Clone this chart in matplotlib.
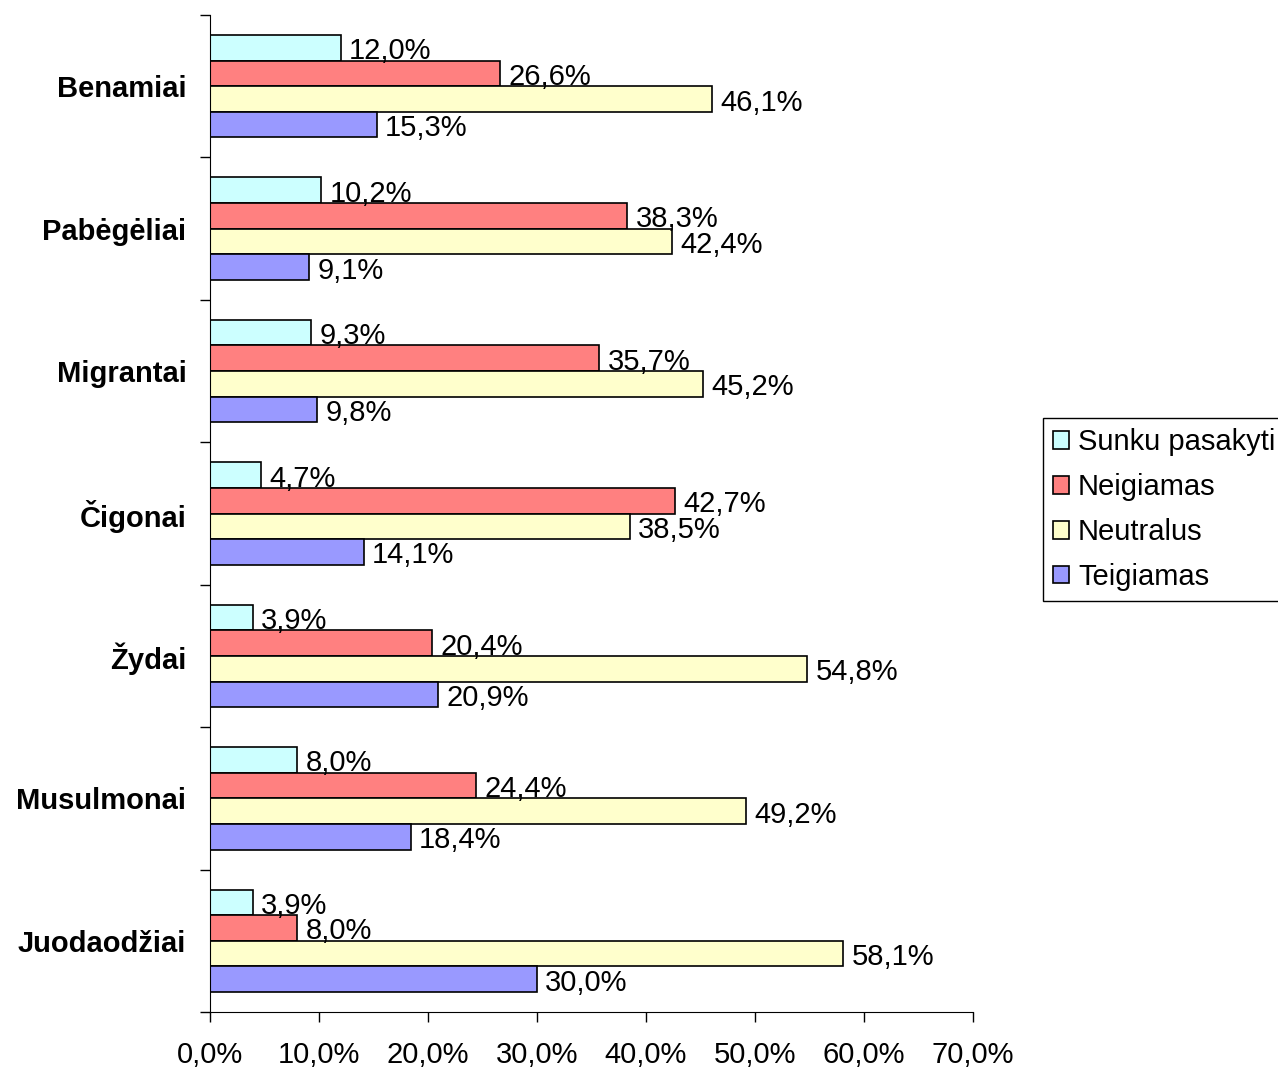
import numpy as np
from matplotlib import pyplot as plt
from matplotlib.ticker import FixedLocator, NullFormatter

plt.rcParams['font.family'] = ['Liberation Sans', 'DejaVu Sans']

## Data (top to bottom)
categories = ['Benamiai', 'Pabėgėliai', 'Migrantai', 'Čigonai', 'Žydai', 'Musulmonai', 'Juodaodžiai']
sunku = [12.0, 10.2, 9.3, 4.7, 3.9, 8.0, 3.9]
neigiamas = [26.6, 38.3, 35.7, 42.7, 20.4, 24.4, 8.0]
neutralus = [46.1, 42.4, 45.2, 38.5, 54.8, 49.2, 58.1]
teigiamas = [15.3, 9.1, 9.8, 14.1, 20.9, 18.4, 30.0]
x_ticks = [0, 10, 20, 30, 40, 50, 60, 70]

series = [('Sunku pasakyti', sunku, '#CCFFFF'),
          ('Neigiamas', neigiamas, '#FF8080'),
          ('Neutralus', neutralus, '#FFFFCC'),
          ('Teigiamas', teigiamas, '#9999FF')]

fs = 21
fig = plt.figure(figsize=(12.78, 10.68), dpi=100)
ax = fig.add_axes([210/1278, 1-1012/1068, (973-210)/1278, (1012-15)/1068])

y = np.arange(len(categories))
h = 0.18
offsets = [-1.5*h, -0.5*h, 0.5*h, 1.5*h]
for (name, vals, col), off in zip(series, offsets):
    bars = ax.barh(y + off, vals, height=h, color=col, edgecolor='black', linewidth=1.2, label=name)
    for b, v in zip(bars, vals):
        ax.annotate(f'{v:.1f}%'.replace('.', ','), (b.get_width(), b.get_y() + h/2),
                    xytext=(6, -2.5), textcoords='offset points', va='center', ha='left', fontsize=fs)

ax.set_xlim(0, 70)
ax.set_ylim(len(categories) - 0.5, -0.5)
ax.set_xticks(x_ticks)
ax.set_xticklabels([f'{t:.1f}%'.replace('.', ',') for t in x_ticks], fontsize=fs)
ax.tick_params(axis='x', length=7, width=1, pad=14, direction='out')

# ticks at category boundaries, labels at centers
ax.yaxis.set_major_locator(FixedLocator(np.arange(-0.5, len(categories), 1)))
ax.yaxis.set_major_formatter(NullFormatter())
ax.yaxis.set_minor_locator(FixedLocator(y))
ax.set_yticklabels(categories, minor=True, fontsize=fs, fontweight='bold')
ax.tick_params(axis='y', which='major', length=7, width=1, direction='out')
ax.tick_params(axis='y', which='minor', length=0, pad=17)

ax.spines['top'].set_visible(False)
ax.spines['right'].set_visible(False)

leg = ax.legend(loc='upper left', bbox_to_anchor=(1043/1278, 1-418/1068), bbox_transform=fig.transFigure,
                fontsize=fs, frameon=True, fancybox=False, edgecolor='black', framealpha=1,
                handlelength=0.55, handleheight=0.55, handletextpad=0.3, labelspacing=0.58,
                borderpad=0.35, borderaxespad=0)
leg.get_frame().set_linewidth(1.0)

plt.savefig('out.png', dpi=100)
